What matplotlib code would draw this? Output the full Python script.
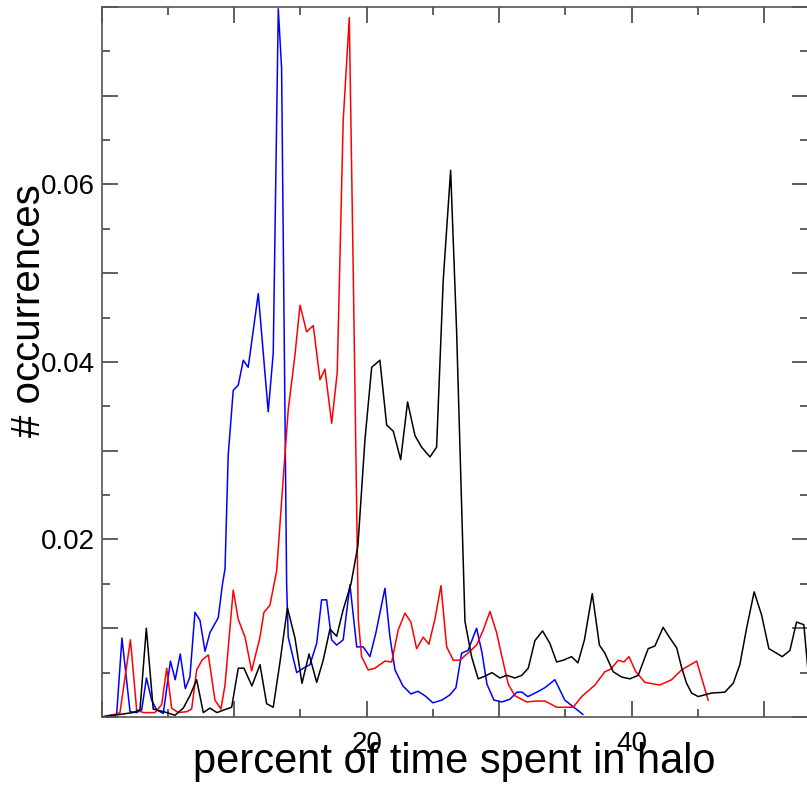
import matplotlib
matplotlib.use('Agg')
import matplotlib.pyplot as plt
from matplotlib.ticker import MultipleLocator, FuncFormatter

plt.rcParams['font.family'] = ['Liberation Sans', 'DejaVu Sans']

# blue curve
blue_x = [0, 0.63, 1.13, 1.53, 2.14, 2.64, 3.02, 3.38, 3.77, 4.15, 4.65, 5.19, 5.55, 5.93,
          6.31, 6.66, 7.04, 7.42, 7.80, 8.17, 8.80, 9.12, 9.31, 9.55, 9.93, 10.31, 10.69,
          11.06, 11.82, 12.57, 12.95, 13.33, 13.58, 13.96, 14.08, 14.72, 15.22, 15.72,
          16.23, 16.60, 16.98, 17.36, 17.74, 18.23, 18.74, 19.25, 19.74, 20.25, 20.70,
          21.38, 21.76, 22.14, 22.74, 23.34, 23.87, 24.40, 25.00, 25.68, 26.29, 26.74,
          27.17, 27.65, 28.30, 28.70, 29.08, 29.61, 30.22, 30.81, 31.34, 31.72, 32.17,
          32.85, 33.45, 34.21, 34.96, 35.72, 36.32]
blue_y = [0, 0.0002, 0.0003, 0.0089, 0.0006, 0.0005, 0.0008, 0.0044, 0.0019, 0.0008,
          0.0004, 0.0063, 0.0042, 0.0071, 0.0032, 0.0045, 0.0118, 0.0109, 0.0074, 0.0095,
          0.0112, 0.0150, 0.0167, 0.0295, 0.0368, 0.0374, 0.0402, 0.0394, 0.0477, 0.0344,
          0.0410, 0.0798, 0.0731, 0.0150, 0.0090, 0.0050, 0.0055, 0.0059, 0.0083, 0.0132,
          0.0132, 0.0087, 0.0081, 0.0087, 0.0149, 0.0079, 0.0079, 0.0068, 0.0095, 0.0145,
          0.0090, 0.0053, 0.0035, 0.0026, 0.0029, 0.0024, 0.0016, 0.0019, 0.0025, 0.0033,
          0.0072, 0.0075, 0.0100, 0.0073, 0.0037, 0.0019, 0.0017, 0.0020, 0.0028, 0.0028,
          0.0023, 0.0028, 0.0033, 0.0042, 0.0019, 0.0010, 0.0003]

# red curve
red_x = [0, 0.63, 1.38, 2.17, 2.64, 3.14, 4.02, 4.53, 4.91, 5.28, 5.78, 6.42, 6.79, 7.17,
         7.57, 8.05, 8.55, 9.00, 9.31, 9.93, 10.31, 10.82, 11.32, 11.95, 12.25, 12.70,
         13.21, 13.58, 14.08, 14.59, 14.97, 15.47, 15.97, 16.48, 16.85, 17.36, 17.78,
         18.23, 18.69, 18.99, 19.37, 19.62, 20.12, 20.63, 21.38, 21.89, 22.38, 22.89,
         23.34, 23.77, 24.27, 24.70, 25.15, 25.61, 26.04, 26.54, 27.04, 27.57, 28.30,
         28.80, 29.31, 29.81, 30.21, 30.69, 31.19, 32.08, 32.78, 33.46, 34.34, 35.59,
         36.23, 37.23, 37.98, 38.44, 38.99, 39.42, 39.80, 40.32, 41.00, 42.13, 43.02,
         43.77, 44.91, 45.78]
red_y = [0, 0.0001, 0.0005, 0.0087, 0.0008, 0.0005, 0.0005, 0.0014, 0.0055, 0.0010,
         0.0005, 0.0006, 0.0009, 0.0053, 0.0064, 0.0070, 0.0019, 0.0009, 0.0036, 0.0143,
         0.0110, 0.0090, 0.0052, 0.0090, 0.0118, 0.0126, 0.0165, 0.0243, 0.0346, 0.0408,
         0.0464, 0.0434, 0.0441, 0.0380, 0.0392, 0.0331, 0.0388, 0.0672, 0.0788, 0.0500,
         0.0110, 0.0068, 0.0053, 0.0055, 0.0063, 0.0062, 0.0098, 0.0117, 0.0107, 0.0077,
         0.0090, 0.0082, 0.0110, 0.0148, 0.0079, 0.0064, 0.0064, 0.0071, 0.0081, 0.0098,
         0.0119, 0.0095, 0.0068, 0.0037, 0.0024, 0.0017, 0.0018, 0.0018, 0.0011, 0.0011,
         0.0023, 0.0036, 0.0051, 0.0054, 0.0064, 0.0062, 0.0068, 0.0051, 0.0039, 0.0036,
         0.0042, 0.0053, 0.0063, 0.0019]

# black curve
black_x = [0, 2.36, 2.89, 3.37, 3.89, 4.40, 4.91, 5.53, 6.16, 6.66, 7.17, 7.67, 8.17,
           8.70, 9.23, 9.81, 10.31, 10.74, 11.34, 11.95, 12.45, 12.95, 13.46, 14.02,
           14.59, 15.12, 15.65, 16.23, 16.72, 17.23, 17.74, 18.23, 18.82, 19.34, 19.87,
           20.38, 21.00, 21.51, 22.01, 22.57, 23.09, 23.65, 24.15, 24.78, 25.28, 25.78,
           26.34, 26.79, 27.42, 27.92, 28.42, 28.93, 29.46, 30.06, 30.57, 31.19, 31.72,
           32.20, 32.70, 33.28, 33.83, 34.34, 34.84, 35.47, 35.95, 36.44, 37.03, 37.57,
           37.98, 38.61, 39.25, 39.87, 40.50, 41.25, 41.76, 42.38, 42.89, 43.40, 43.77,
           44.15, 44.53, 45.03, 45.53, 46.04, 47.04, 47.67, 48.17, 48.68, 49.25, 49.81,
           50.36, 50.82, 51.37, 51.95, 52.45, 53.00, 53.45]
black_y = [0, 0.0005, 0.0008, 0.0100, 0.0009, 0.0007, 0.0005, 0.0002, 0.0010, 0.0024,
           0.0042, 0.0005, 0.0010, 0.0005, 0.0008, 0.0011, 0.0055, 0.0055, 0.0035, 0.0059,
           0.0015, 0.0011, 0.0062, 0.0123, 0.0089, 0.0038, 0.0071, 0.0039, 0.0064, 0.0099,
           0.0091, 0.0121, 0.0150, 0.0193, 0.0312, 0.0394, 0.0402, 0.0329, 0.0322, 0.0290,
           0.0355, 0.0317, 0.0304, 0.0293, 0.0304, 0.0492, 0.0616, 0.0435, 0.0108, 0.0068,
           0.0043, 0.0046, 0.0050, 0.0044, 0.0047, 0.0044, 0.0047, 0.0055, 0.0086, 0.0097,
           0.0083, 0.0062, 0.0064, 0.0068, 0.0061, 0.0087, 0.0139, 0.0081, 0.0072, 0.0051,
           0.0045, 0.0043, 0.0047, 0.0077, 0.0080, 0.0101, 0.0089, 0.0078, 0.0056, 0.0038,
           0.0027, 0.0023, 0.0025, 0.0027, 0.0028, 0.0038, 0.0059, 0.0100, 0.0141, 0.0115,
           0.0077, 0.0073, 0.0068, 0.0075, 0.0107, 0.0104, 0.0030]

fig = plt.figure(figsize=(8.07, 8.11), dpi=100)
ax = fig.add_axes([0.126, 0.1159, 0.875, 0.8755])

lw = 1.1
ax.plot(blue_x, blue_y, color='#0000ff', lw=lw)
ax.plot(red_x, red_y, color='#ff0000', lw=lw)
ax.plot(black_x, black_y, color='#000000', lw=lw)

ax.set_xlim(0, 53.3)
ax.set_ylim(0, 0.08)

for s in ax.spines.values():
    s.set_color('#555555')
    s.set_linewidth(1.2)

# ticks: long at labelled values, medium at 10 / 0.01, short at 5 / 0.005
ax.xaxis.set_major_locator(MultipleLocator(10))
ax.xaxis.set_minor_locator(MultipleLocator(5))
ax.yaxis.set_major_locator(MultipleLocator(0.01))
ax.yaxis.set_minor_locator(MultipleLocator(0.005))

def xfmt(v, pos):
    return '%d' % round(v) if round(v) in (20, 40) else ''

def yfmt(v, pos):
    r = round(v * 100)
    return '%.2f' % v if r in (2, 4, 6) else ''

ax.xaxis.set_major_formatter(FuncFormatter(xfmt))
ax.yaxis.set_major_formatter(FuncFormatter(yfmt))

ax.tick_params(which='both', direction='in', top=True, right=True,
               color='#444444', width=1.2, labelsize=20, labelcolor='black')
ax.tick_params(which='major', length=6)
ax.tick_params(which='minor', length=5.5)
ax.tick_params(axis='x', pad=10)
ax.tick_params(axis='y', pad=5)

for t in ax.xaxis.get_major_ticks():
    if round(t.get_loc()) % 20 == 0:
        t.tick1line.set_markersize(11.5)
        t.tick2line.set_markersize(11.5)
for t in ax.yaxis.get_major_ticks():
    if round(t.get_loc() * 100) % 2 == 0:
        t.tick1line.set_markersize(11.5)
        t.tick2line.set_markersize(11.5)
    else:
        t.tick1line.set_markersize(8.5)
        t.tick2line.set_markersize(8.5)

ax.text(0.5, -0.063, 'percent of time spent in halo', transform=ax.transAxes,
        ha='center', va='center', fontsize=30)
ax.text(-0.103, 0.573, '# occurrences', transform=ax.transAxes,
        ha='center', va='center', rotation=90, fontsize=29)

fig.savefig('out.png', dpi=100)
